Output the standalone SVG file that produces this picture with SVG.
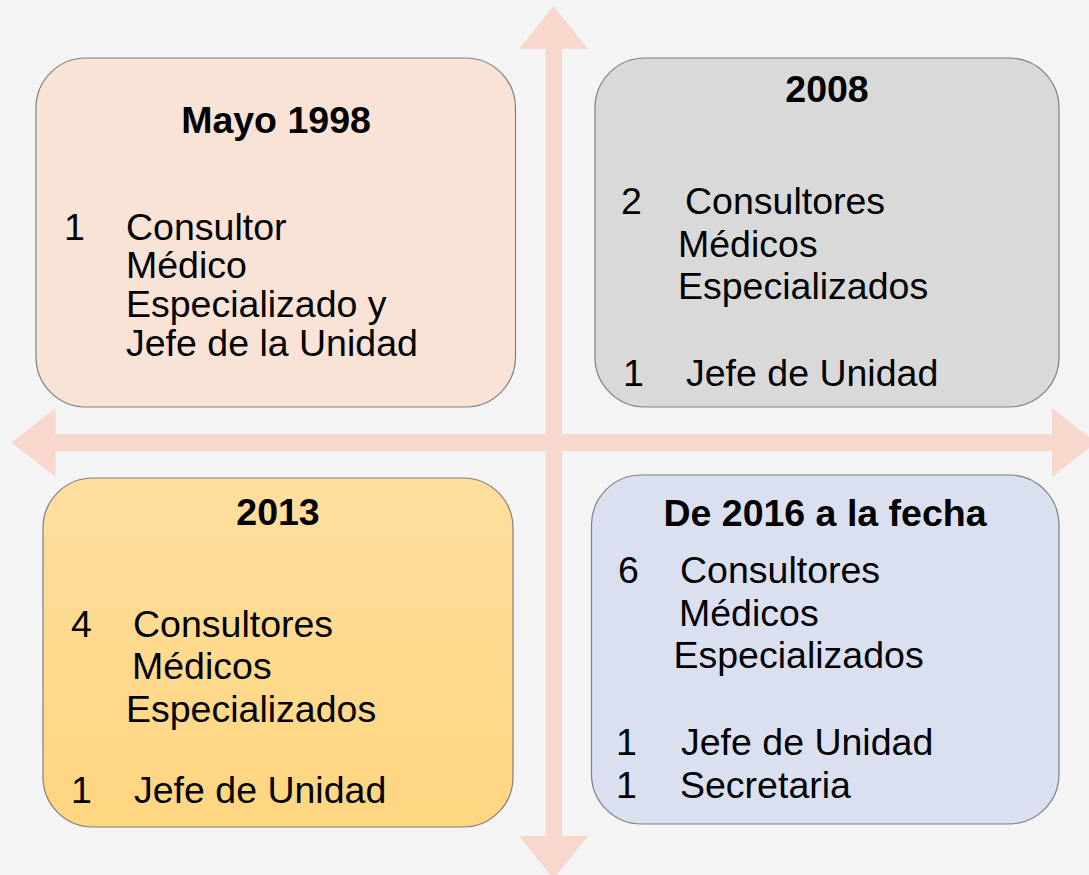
<svg xmlns="http://www.w3.org/2000/svg" width="1089" height="875" viewBox="0 0 1089 875">
<defs>
<linearGradient id="g2013" x1="0" y1="0" x2="0" y2="1">
<stop offset="0" stop-color="#FFDE9E"/>
<stop offset="1" stop-color="#FFD680"/>
</linearGradient>
</defs>
<style>
.box{stroke:#7F7F7F;stroke-width:1.2}
.t{font-family:"Liberation Sans",Arial,sans-serif;font-size:37.5px;fill:#000}
.h{font-family:"Liberation Sans",Arial,sans-serif;font-size:37.5px;font-weight:bold;fill:#000;text-anchor:middle}
.ax{fill:#F8D8CD}
</style>
<rect width="1089" height="875" fill="#F4F4F4"/>
<g id="connectors">
<polygon class="ax" points="545.5,49 519,49 553.5,6 588,49 562,49 562,836 588,836 553.5,879 519,836 545.5,836"/>
<polygon class="ax" points="55.5,434 55.5,408 11.5,442.5 55.5,477 55.5,451 1052,451 1052,477 1096,442.5 1052,408 1052,434"/>
</g>
<g id="node-1998">
<rect class="box" x="36" y="58" width="479.5" height="349" rx="50" fill="#F9E3D6"/>
<text class="h" x="276" y="133">Mayo 1998</text>
<text class="t" x="64" y="240">1</text>
<text class="t" x="126" y="240">Consultor</text>
<text class="t" x="126" y="278">Médico</text>
<text class="t" x="126" y="317">Especializado y</text>
<text class="t" x="126" y="356">Jefe de la Unidad</text>
</g>
<g id="node-2008">
<rect class="box" x="595" y="58" width="464" height="349" rx="50" fill="#D9D9D9"/>
<text class="h" x="827" y="102">2008</text>
<text class="t" x="621" y="214">2</text>
<text class="t" x="685" y="214">Consultores</text>
<text class="t" x="678" y="257">Médicos</text>
<text class="t" x="678" y="299">Especializados</text>
<text class="t" x="623" y="386">1</text>
<text class="t" x="686" y="386">Jefe de Unidad</text>
</g>
<g id="node-2013">
<rect class="box" x="43" y="478" width="470" height="349" rx="50" fill="url(#g2013)"/>
<text class="h" x="278" y="525">2013</text>
<text class="t" x="71" y="637">4</text>
<text class="t" x="133" y="637">Consultores</text>
<text class="t" x="132" y="679">Médicos</text>
<text class="t" x="126" y="722">Especializados</text>
<text class="t" x="71" y="803">1</text>
<text class="t" x="134" y="803">Jefe de Unidad</text>
</g>
<g id="node-2016">
<rect class="box" x="591.5" y="475" width="467.5" height="349" rx="50" fill="#DAE0EF"/>
<text class="h" x="825" y="526">De 2016 a la fecha</text>
<text class="t" x="618" y="583">6</text>
<text class="t" x="680" y="583">Consultores</text>
<text class="t" x="679" y="626">Médicos</text>
<text class="t" x="673.5" y="668">Especializados</text>
<text class="t" x="616" y="755">1</text>
<text class="t" x="681" y="755">Jefe de Unidad</text>
<text class="t" x="616" y="798">1</text>
<text class="t" x="680" y="798">Secretaria</text>
</g>
</svg>
